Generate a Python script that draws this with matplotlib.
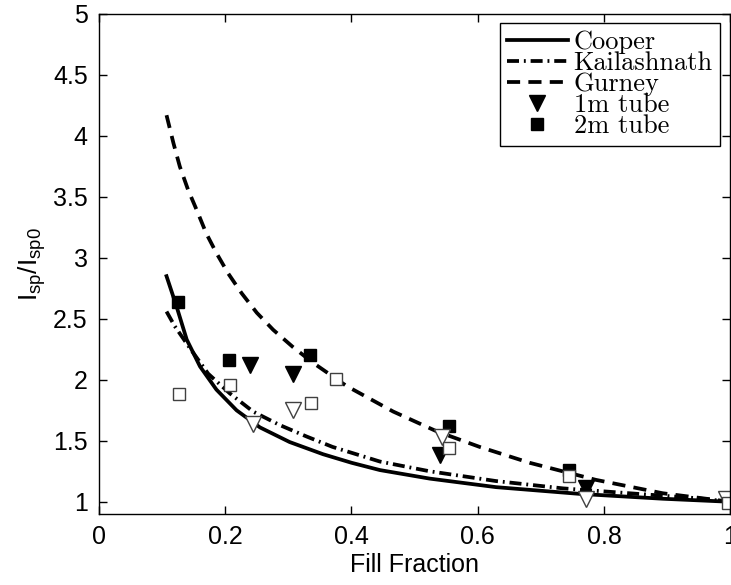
import matplotlib
matplotlib.use('Agg')
import matplotlib.pyplot as plt

# model curves, Isp/Isp0 vs fill fraction
cooper_f = [0.107, 0.123, 0.139, 0.160, 0.186, 0.218, 0.255, 0.302, 0.355, 0.400,
            0.445, 0.524, 0.629, 0.761, 0.893, 1.0]
cooper_r = [2.85, 2.60, 2.33, 2.11, 1.92, 1.75, 1.61, 1.49, 1.39, 1.32,
            1.26, 1.19, 1.12, 1.065, 1.025, 1.0]

kail_f = [0.107, 0.120, 0.144, 0.173, 0.207, 0.244, 0.286, 0.329, 0.370,
          0.445, 0.524, 0.629, 0.735, 0.840, 0.946, 1.0]
kail_r = [2.56, 2.44, 2.26, 2.05, 1.89, 1.74, 1.63, 1.535, 1.45,
          1.33, 1.25, 1.17, 1.11, 1.07, 1.03, 1.0]

gurney_f = [0.107, 0.118, 0.128, 0.141, 0.155, 0.170, 0.186, 0.205, 0.226, 0.250,
            0.276, 0.307, 0.339, 0.392, 0.466, 0.534, 0.603, 0.682, 0.787, 0.893, 1.0]
gurney_r = [4.17, 3.94, 3.75, 3.56, 3.39, 3.20, 3.04, 2.87, 2.71, 2.55,
            2.41, 2.27, 2.14, 1.95, 1.74, 1.58, 1.45, 1.32, 1.18, 1.07, 1.0]

# measurements
tube1_f = [0.239, 0.307, 0.540, 0.772]
tube1_r = [2.12, 2.05, 1.385, 1.11]
tube2_f = [0.125, 0.206, 0.334, 0.555, 0.744]
tube2_r = [2.64, 2.16, 2.20, 1.625, 1.26]
open_tri_f = [0.244, 0.307, 0.544, 0.772, 0.993]
open_tri_r = [1.64, 1.75, 1.53, 1.02, 1.02]
open_sq_f = [0.127, 0.207, 0.336, 0.375, 0.554, 0.744, 0.996]
open_sq_r = [1.88, 1.96, 1.81, 2.01, 1.44, 1.21, 0.99]

plt.rcParams['font.family'] = 'Liberation Sans'
plt.rcParams['mathtext.default'] = 'regular'

fig = plt.figure(figsize=(7.31, 5.85), dpi=100)
ax = fig.add_axes([0.1354, 0.1214, 0.8636, 0.8547])

lw = 2.7
ax.plot(cooper_f, cooper_r, '-', color='k', lw=lw, label='Cooper')
ax.plot(kail_f, kail_r, color='k', lw=lw, dashes=(3.2, 1.3, 0.5, 1.3), label='Kailashnath')
ax.plot(gurney_f, gurney_r, color='k', lw=lw, dashes=(3.5, 2.2), label='Gurney')

ax.plot(tube1_f, tube1_r, 'v', color='k', ms=11, label='1m tube')
ax.plot(tube2_f, tube2_r, 's', color='k', ms=8.5, label='2m tube')
ax.plot(open_tri_f, open_tri_r, 'v', mfc='white', mec='0.25', mew=1, ms=11)
ax.plot(open_sq_f, open_sq_r, 's', mfc='white', mec='0.25', mew=1, ms=8.5)

ax.set_xlim(0, 1)
ax.set_ylim(0.9, 5)
ax.set_xticks([0, 0.2, 0.4, 0.6, 0.8, 1])
ax.set_xticklabels(['0', '0.2', '0.4', '0.6', '0.8', '1'])
ax.set_yticks([1, 1.5, 2, 2.5, 3, 3.5, 4, 4.5, 5])
ax.set_yticklabels(['1', '1.5', '2', '2.5', '3', '3.5', '4', '4.5', '5'])
ax.tick_params(direction='in', top=True, right=True, length=6, width=1, labelsize=18, pad=8)
for s in ax.spines.values():
    s.set_linewidth(1)

ax.set_xlabel('Fill Fraction', fontsize=18, labelpad=3)
ax.set_ylabel('$I_{sp}/I_{sp0}$', fontsize=19, labelpad=4)

leg = ax.legend(loc='upper right', bbox_to_anchor=(0.984, 0.982),
                prop={'family': 'cmr10', 'size': 19}, frameon=True, fancybox=False,
                edgecolor='k', framealpha=1, labelspacing=-0.1, handlelength=2.3,
                handletextpad=0.23, borderpad=0.28, borderaxespad=0)
leg.get_frame().set_linewidth(1)

fig.savefig('out.png', dpi=100)
